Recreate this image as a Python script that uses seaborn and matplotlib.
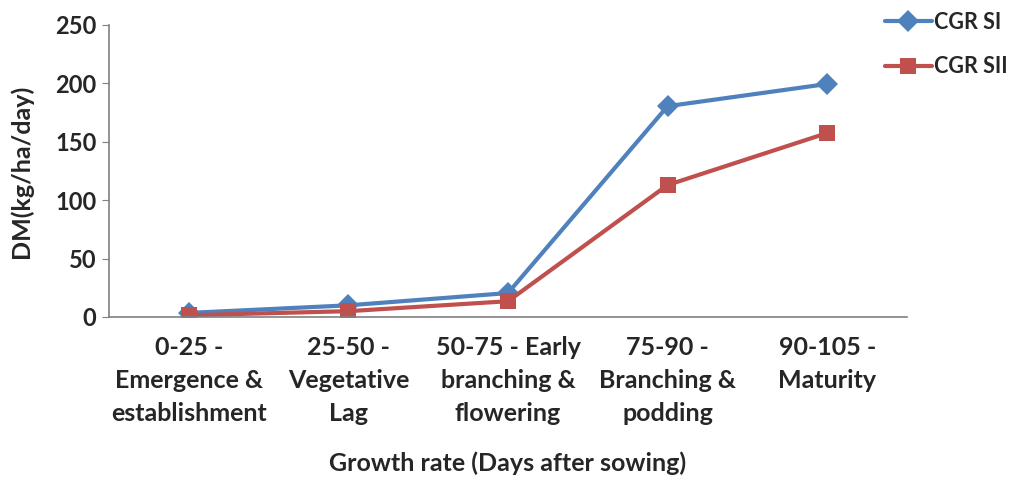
import matplotlib
matplotlib.use("Agg")
import matplotlib.pyplot as plt
import seaborn as sns
import pandas as pd

categories = [
    "0-25 -\nEmergence &\nestablishment",
    "25-50 -\nVegetative\nLag",
    "50-75 - Early\nbranching &\nflowering",
    "75-90 -\nBranching &\npodding",
    "90-105 -\nMaturity",
]
cgr_si = [3.5, 10, 20.5, 180.5, 199.5]
cgr_sii = [1.5, 5, 13.5, 113, 157.5]
series_names = ["CGR SI", "CGR SII"]
y_ticks = [0, 50, 100, 150, 200, 250]

sns.set_style("white")
plt.rcParams["font.family"] = ["Lato", "DejaVu Sans"]
plt.rcParams["font.weight"] = "bold"

df = pd.DataFrame({
    "stage": categories * 2,
    "pos": list(range(len(categories))) * 2,
    "value": cgr_si + cgr_sii,
    "series": [series_names[0]] * len(categories) + [series_names[1]] * len(categories),
})

fig = plt.figure(figsize=(10.1, 4.82), dpi=100)
ax = fig.add_axes([109 / 1010, 1 - 317 / 482, (907 - 109) / 1010, (317 - 25) / 482])

palette = {"CGR SI": "#4F81BD", "CGR SII": "#C0504D"}
sns.lineplot(data=df, x="pos", y="value", hue="series", style="series",
             markers={"CGR SI": "D", "CGR SII": "s"}, dashes=False,
             palette=palette, linewidth=3, markersize=11, markeredgewidth=0,
             ax=ax, legend=True)

ax.set_xlim(-0.5, len(categories) - 0.5)
ax.set_ylim(0, 250)
ax.set_yticks(y_ticks)
ax.set_xticks(range(len(categories)))
ax.set_xticklabels(categories, fontsize=18, fontweight="bold", linespacing=1.52)
ax.tick_params(axis="x", length=0, pad=14)
ax.tick_params(axis="y", labelsize=17, length=5, color="#808080", direction="out", left=True, pad=4)
for lbl in ax.get_yticklabels():
    lbl.set_fontweight("bold")

for side in ["top", "right"]:
    ax.spines[side].set_visible(False)
for side in ["left", "bottom"]:
    ax.spines[side].set_color("#808080")
    ax.spines[side].set_linewidth(1.2)

ax.set_xlabel("Growth rate (Days after sowing)", fontsize=18, fontweight="bold", labelpad=19)
ax.set_ylabel("DM(kg/ha/day)", fontsize=18, fontweight="bold", labelpad=16)

handles, labels = ax.get_legend_handles_labels()
leg = ax.legend(handles, labels, loc="upper left", bbox_to_anchor=(876 / 1010, 1 - 3 / 482),
                bbox_transform=fig.transFigure, frameon=False, fontsize=15.5,
                labelspacing=1.1, handlelength=2.2, handletextpad=0.1, borderaxespad=0)
for t in leg.get_texts():
    t.set_fontweight("bold")

fig.savefig("out.png", dpi=100)
